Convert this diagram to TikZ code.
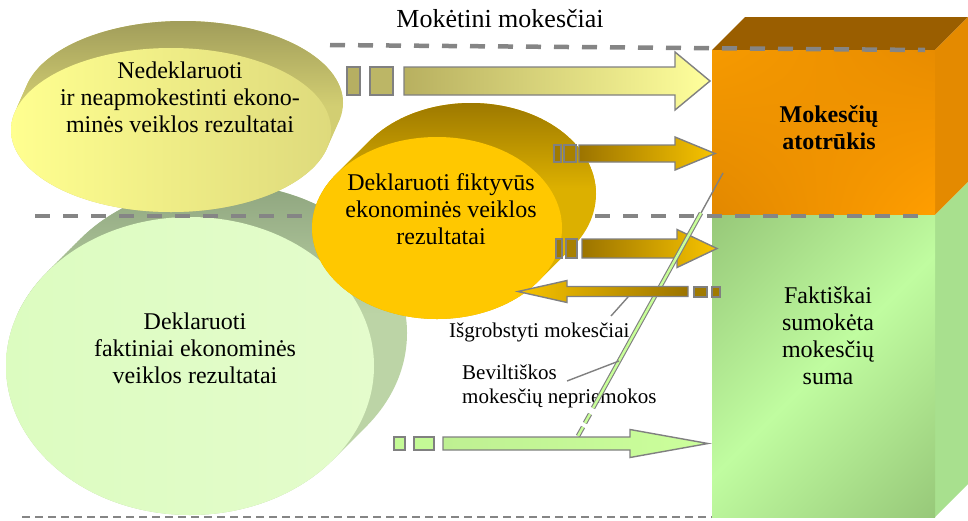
\documentclass[tikz,border=0pt]{standalone}
\usepackage{fontspec}
\usetikzlibrary{shadings}
\setmainfont{Liberation Serif}
\definecolor{edgegray}{HTML}{808080}
\definecolor{dashgray}{HTML}{858585}
\definecolor{orangetop}{HTML}{9A5E00}
\definecolor{orangeside}{HTML}{E48A00}
\definecolor{orangeA}{HTML}{F69A00}
\definecolor{orangeB}{HTML}{E88C00}
\definecolor{orangeC}{HTML}{E28800}
\definecolor{orangeD}{HTML}{FF9E00}
\definecolor{greenside}{HTML}{A8E08E}
\definecolor{greendark}{HTML}{94C476}
\definecolor{greenlight}{HTML}{C0FCA0}
\definecolor{stripegreen}{HTML}{C8FF98}
\definecolor{sageback}{HTML}{8EA47E}
\definecolor{sagelow}{HTML}{BCD4A6}
\definecolor{paleA}{HTML}{DCFCC0}
\definecolor{paleB}{HTML}{E4FCCC}
\definecolor{oliveback}{HTML}{A09C5A}
\definecolor{olivelow}{HTML}{D2CE72}
\definecolor{lemonA}{HTML}{FFFF90}
\definecolor{lemonB}{HTML}{DEDA7C}
\definecolor{goldback}{HTML}{9C7800}
\definecolor{goldlow}{HTML}{DCB000}
\definecolor{goldfront}{HTML}{FFC800}
\definecolor{golddark}{HTML}{9C7400}
\definecolor{goldbright}{HTML}{F8C400}
\definecolor{goldtail}{HTML}{A07A00}
\definecolor{goldtailB}{HTML}{A88000}
\definecolor{olivetail}{HTML}{B6AF62}
\definecolor{olivetailB}{HTML}{BCB666}
\definecolor{olivearrow}{HTML}{B8B060}
\definecolor{lemonarrow}{HTML}{FFFF9C}
\definecolor{limeA}{HTML}{BEF092}
\definecolor{limeB}{HTML}{CCFF9C}
\definecolor{limetail}{HTML}{C4FA96}
% block arrow: #1 shading, #2 tail x, #3 head base x, #4 tip x, #5 axis y, #6 half shaft, #7 half head
\newcommand\blockarrow[7]{%
  \shadedraw[arrowedge,#1] (#2,#5-#6) -- (#3,#5-#6) -- (#3,#5-#7) -- (#4,#5)
    -- (#3,#5+#7) -- (#3,#5+#6) -- (#2,#5+#6) -- cycle;}
% extruded ellipse body: #1 cx, #2 cy, #3 rx, #4 ry, #5 shift right, #6 shift up,
% #7 body colour, #8 colour at the top rim, #9 depth of the darkening
\newcommand\sweptdisc[9]{%
  \begin{scope}
    \clip \foreach \sw in {0,0.05,...,1.001} {(#1+\sw*#5, #2-\sw*#6) ellipse [x radius=#3pt, y radius=#4pt]};
    \fill[#7] (#1-#3-5, #2-#4-#6-5) rectangle (#1+#3+#5+5, #2+#4+5);
    \shade[top color=#8, bottom color=#7] (#1-#3-5, #2-#4-#6-2) rectangle (#1+#3+#5+5, #2-#4-#6+#9);
  \end{scope}}
\begin{document}
\begin{tikzpicture}[x=1pt,y=-1pt,
  dashline/.style={draw=dashgray, line width=4.5pt, dash pattern=on 15pt off 13pt},
  thindash/.style={draw=dashgray, line width=2.8pt, dash pattern=on 8pt off 5pt},
  arrowedge/.style={draw=edgegray, line width=1.4pt, line join=miter},
  tailbox/.style={draw=edgegray, line width=1.4pt},
  txt/.style={inner sep=0pt, align=center, font=\fontsize{24}{27}\selectfont},
  boldtxt/.style={inner sep=0pt, align=center, font=\fontsize{24}{27}\selectfont\bfseries},
  lbl/.style={inner sep=0pt, align=left, font=\fontsize{21}{24}\selectfont},
  leader/.style={draw=edgegray, line width=1.4pt},
  stripe/.style={draw=edgegray, line width=1.1pt, double=stripegreen, double distance=2.4pt}]
\useasboundingbox (0,0) rectangle (968,520);

% tax gap cuboid
\fill[orangetop] (712,50) -- (745,17) -- (968,17) -- (935,50) -- cycle;
\fill[orangeside] (935,50) -- (968,17) -- (968,182) -- (935,215) -- cycle;
\shade[upper left=orangeA, upper right=orangeB, lower left=orangeC, lower right=orangeD]
  (712,50) rectangle (935,215);
% paid tax cuboid, front lit along the rising diagonal
\fill[greenside] (935,215) -- (968,182) -- (968,484) -- (935,517) -- cycle;
\begin{scope}
  \clip (712,215) rectangle (935,517);
  \shade[transform canvas={rotate around={45:(823.5,366)}},
         top color=greendark, bottom color=greendark, middle color=greenlight]
    (623.5,166) rectangle (1023.5,566);
\end{scope}

% declared actual results
\sweptdisc{190}{366}{184}{149}{33}{33}{sagelow}{sageback}{130}
\shade[left color=paleA, right color=paleB] (190,366) ellipse [x radius=184pt, y radius=149pt];

% undeclared results
\sweptdisc{171}{130}{160}{82}{12}{27}{olivelow}{oliveback}{85}
\shade[left color=lemonA, right color=lemonB] (171,130) ellipse [x radius=160pt, y radius=82pt];

% level lines
\draw[dashline] (35,216) -- (925,216);
\draw[dashline] (330,45) -- (925,50);
\draw[thindash] (22,517) -- (712,517);

% fictitious results
\sweptdisc{437}{228}{125}{91}{34}{34}{goldlow}{goldback}{85}
\fill[goldfront] (437,228) ellipse [x radius=125pt, y radius=91pt];

% texts
\node[anchor=base, inner sep=0pt, font=\fontsize{26}{30}\selectfont] (due) at (500,27) {Mokėtini mokesčiai};
\node[txt] (undeclared) at (180,97) {Nedeklaruoti\\ir neapmokestinti ekono-\\minės veiklos rezultatai};
\node[txt] (fictitious) at (441,209) {Deklaruoti fiktyvūs\\ekonominės veiklos\\rezultatai};
\node[txt] (declared) at (195,348) {Deklaruoti\\faktiniai ekonominės\\veiklos rezultatai};
\node[boldtxt] (gap) at (829,128) {Mokesčių\\atotrūkis};
\node[txt] (paid) at (828,336) {Faktiškai\\sumokėta\\mokesčių\\suma};
\node[lbl, anchor=base west] (theft) at (449,337) {Išgrobstyti mokesčiai};
\node[lbl, anchor=west] (hopeless) at (462,386) {Beviltiškos\\mokesčių nepriemokos};

% arrows
\filldraw[tailbox, fill=olivetail] (347,67) rectangle (360,95);
\filldraw[tailbox, fill=olivetailB] (370,67) rectangle (393,95);
\blockarrow{left color=olivearrow, right color=lemonarrow}{404}{675}{710}{81}{14}{29}

\filldraw[tailbox, fill=goldtail] (554,145) rectangle (561,162);
\filldraw[tailbox, fill=goldtailB] (564,145) rectangle (576,162);
\blockarrow{left color=golddark, right color=goldbright}{579}{675}{715}{153.5}{8.5}{16.5}

\filldraw[tailbox, fill=goldtail] (556,239) rectangle (562,258);
\filldraw[tailbox, fill=goldtailB] (566,239) rectangle (577,258);
\blockarrow{left color=golddark, right color=goldbright}{582}{677}{717}{248.5}{9.5}{19}

% hopeless arrears strip
\coordinate (s0) at (723,173);
\coordinate (s1) at (701,213);
\coordinate (s2) at (593,408);
\coordinate (s3) at (590,414);
\coordinate (s4) at (585,423);
\coordinate (s5) at (583,427);
\coordinate (s6) at (578,436);
\draw[leader] (s0) -- (s1);
\draw[stripe] (s1) -- (s2);
\draw[stripe] (s3) -- (s4);
\draw[stripe] (s5) -- (s6);

\filldraw[tailbox, fill=goldtail] (694,287) rectangle (707,297);
\filldraw[tailbox, fill=goldtail] (712,287) rectangle (720,297);
\blockarrow{left color=goldbright, right color=golddark}{688}{567}{518}{291.5}{5}{11}

\filldraw[tailbox, fill=limetail] (394,437) rectangle (405,450);
\filldraw[tailbox, fill=limetail] (414,437) rectangle (434,450);
\blockarrow{left color=limeA, right color=limeB}{443}{630}{708}{443.5}{6.5}{14}

% leaders
\coordinate (t1) at (611,316);
\coordinate (t2) at (628,297);
\coordinate (h1) at (567,381);
\coordinate (h2) at (619,361);
\draw[leader] (t1) -- (t2);
\draw[leader] (h1) -- (h2);
\end{tikzpicture}
\end{document}
